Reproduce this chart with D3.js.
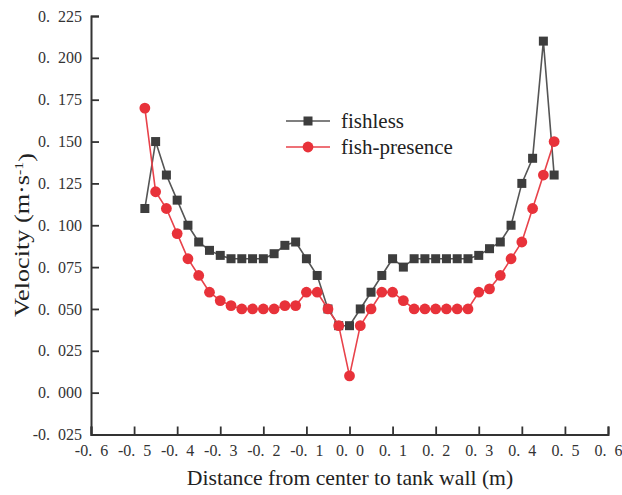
<!DOCTYPE html>
<html><head><meta charset="utf-8">
<script src="https://cdn.jsdelivr.net/npm/d3@7"></script>
<style>body{margin:0;background:#fff}svg{display:block}</style>
</head><body>
<script>
const positions = [-0.475,-0.45,-0.425,-0.4,-0.375,-0.35,-0.325,-0.3,-0.275,-0.25,-0.225,-0.2,-0.175,-0.15,-0.125,-0.1,-0.075,-0.05,-0.025,0,0.025,0.05,0.075,0.1,0.125,0.15,0.175,0.2,0.225,0.25,0.275,0.3,0.325,0.35,0.375,0.4,0.425,0.45,0.475];
const fishless = [0.11,0.15,0.13,0.115,0.10,0.09,0.085,0.082,0.08,0.08,0.08,0.08,0.083,0.088,0.09,0.08,0.07,0.05,0.04,0.04,0.05,0.06,0.07,0.08,0.075,0.08,0.08,0.08,0.08,0.08,0.08,0.082,0.086,0.09,0.10,0.125,0.14,0.21,0.13];
const fishPresence = [0.17,0.12,0.11,0.095,0.08,0.07,0.06,0.055,0.052,0.05,0.05,0.05,0.05,0.052,0.052,0.06,0.06,0.05,0.04,0.01,0.04,0.05,0.06,0.06,0.055,0.05,0.05,0.05,0.05,0.05,0.05,0.06,0.062,0.07,0.08,0.09,0.11,0.13,0.15];
const xTicks = [-0.6,-0.5,-0.4,-0.3,-0.2,-0.1,0,0.1,0.2,0.3,0.4,0.5,0.6];
const yTicks = [-0.025,0,0.025,0.05,0.075,0.1,0.125,0.15,0.175,0.2,0.225];
const seriesNames = ["fishless","fish-presence"];

const W = 622, H = 495;
const svg = d3.select("body").append("svg").attr("width", W).attr("height", H);
const x = d3.scaleLinear().domain([-0.6, 0.6]).range([91, 608]);
const y = d3.scaleLinear().domain([-0.025, 0.225]).range([434.5, 16]);
const font = "'Liberation Serif','Times New Roman',serif";
const fmt = (d, n) => { const s = Math.abs(d).toFixed(n).replace(".", ".\u2002"); return (d < -1e-9 ? "-" : "") + s; };

const xAxis = svg.append("g").attr("transform", `translate(0,${y(-0.025)})`)
  .call(d3.axisBottom(x).tickValues(xTicks).tickSize(-8).tickPadding(10).tickFormat(d => fmt(d, 1)));
const yAxis = svg.append("g").attr("transform", `translate(${x(-0.6)},0)`)
  .call(d3.axisLeft(y).tickValues(yTicks).tickSize(-8).tickPadding(9).tickFormat(d => fmt(d, 3)));
[xAxis, yAxis].forEach(g => {
  g.select(".domain").attr("stroke", "#333").attr("stroke-width", 2);
  g.selectAll(".tick line").attr("stroke", "#333").attr("stroke-width", 1.8);
  g.selectAll(".tick text").attr("fill", "#333").style("font-family", font).style("font-size", "16px");
});

const colors = ["#3d3d3d", "#e8323a"];
const lineColors = ["#555555", "#e8424a"];
const data = [fishless, fishPresence];
const line = d3.line().x((d, i) => x(positions[i])).y(d => y(d));
data.forEach((vals, k) => {
  svg.append("path").datum(vals).attr("d", line).attr("fill", "none")
    .attr("stroke", lineColors[k]).attr("stroke-width", 1.6);
});
svg.append("g").selectAll("rect").data(fishless).join("rect")
  .attr("x", (d, i) => x(positions[i]) - 4.5).attr("y", d => y(d) - 4.5)
  .attr("width", 9).attr("height", 9).attr("fill", colors[0]);
svg.append("g").selectAll("circle").data(fishPresence).join("circle")
  .attr("cx", (d, i) => x(positions[i])).attr("cy", d => y(d)).attr("r", 5.4)
  .attr("fill", colors[1]);

const lg = svg.append("g");
seriesNames.forEach((name, k) => {
  const ly = 121 + k * 26;
  lg.append("line").attr("x1", 286).attr("x2", 330).attr("y1", ly).attr("y2", ly)
    .attr("stroke", lineColors[k]).attr("stroke-width", 1.6);
  if (k === 0) lg.append("rect").attr("x", 308 - 4.5).attr("y", ly - 4.5).attr("width", 9).attr("height", 9).attr("fill", colors[0]);
  else lg.append("circle").attr("cx", 308).attr("cy", ly).attr("r", 5.4).attr("fill", colors[1]);
  lg.append("text").attr("x", 341).attr("y", ly).attr("dy", "0.33em").text(name)
    .style("font-family", font).style("font-size", "21px").attr("fill", "#222");
});

svg.append("text").attr("x", 350).attr("y", 485).attr("text-anchor", "middle")
  .style("font-family", font).style("font-size", "21.7px").attr("fill", "#222")
  .text("Distance from center to tank wall (m)");
const yt = svg.append("text").attr("transform", "translate(29,235) rotate(-90) scale(1.22,1)").attr("text-anchor", "middle")
  .style("font-family", font).style("font-size", "21.5px").attr("fill", "#222");
yt.append("tspan").text("Velocity (m\u00B7s");
yt.append("tspan").attr("dy", "-0.45em").style("font-size", "13px").text("-1");
yt.append("tspan").attr("dy", "0.45em").text(")");
</script>
</body></html>
